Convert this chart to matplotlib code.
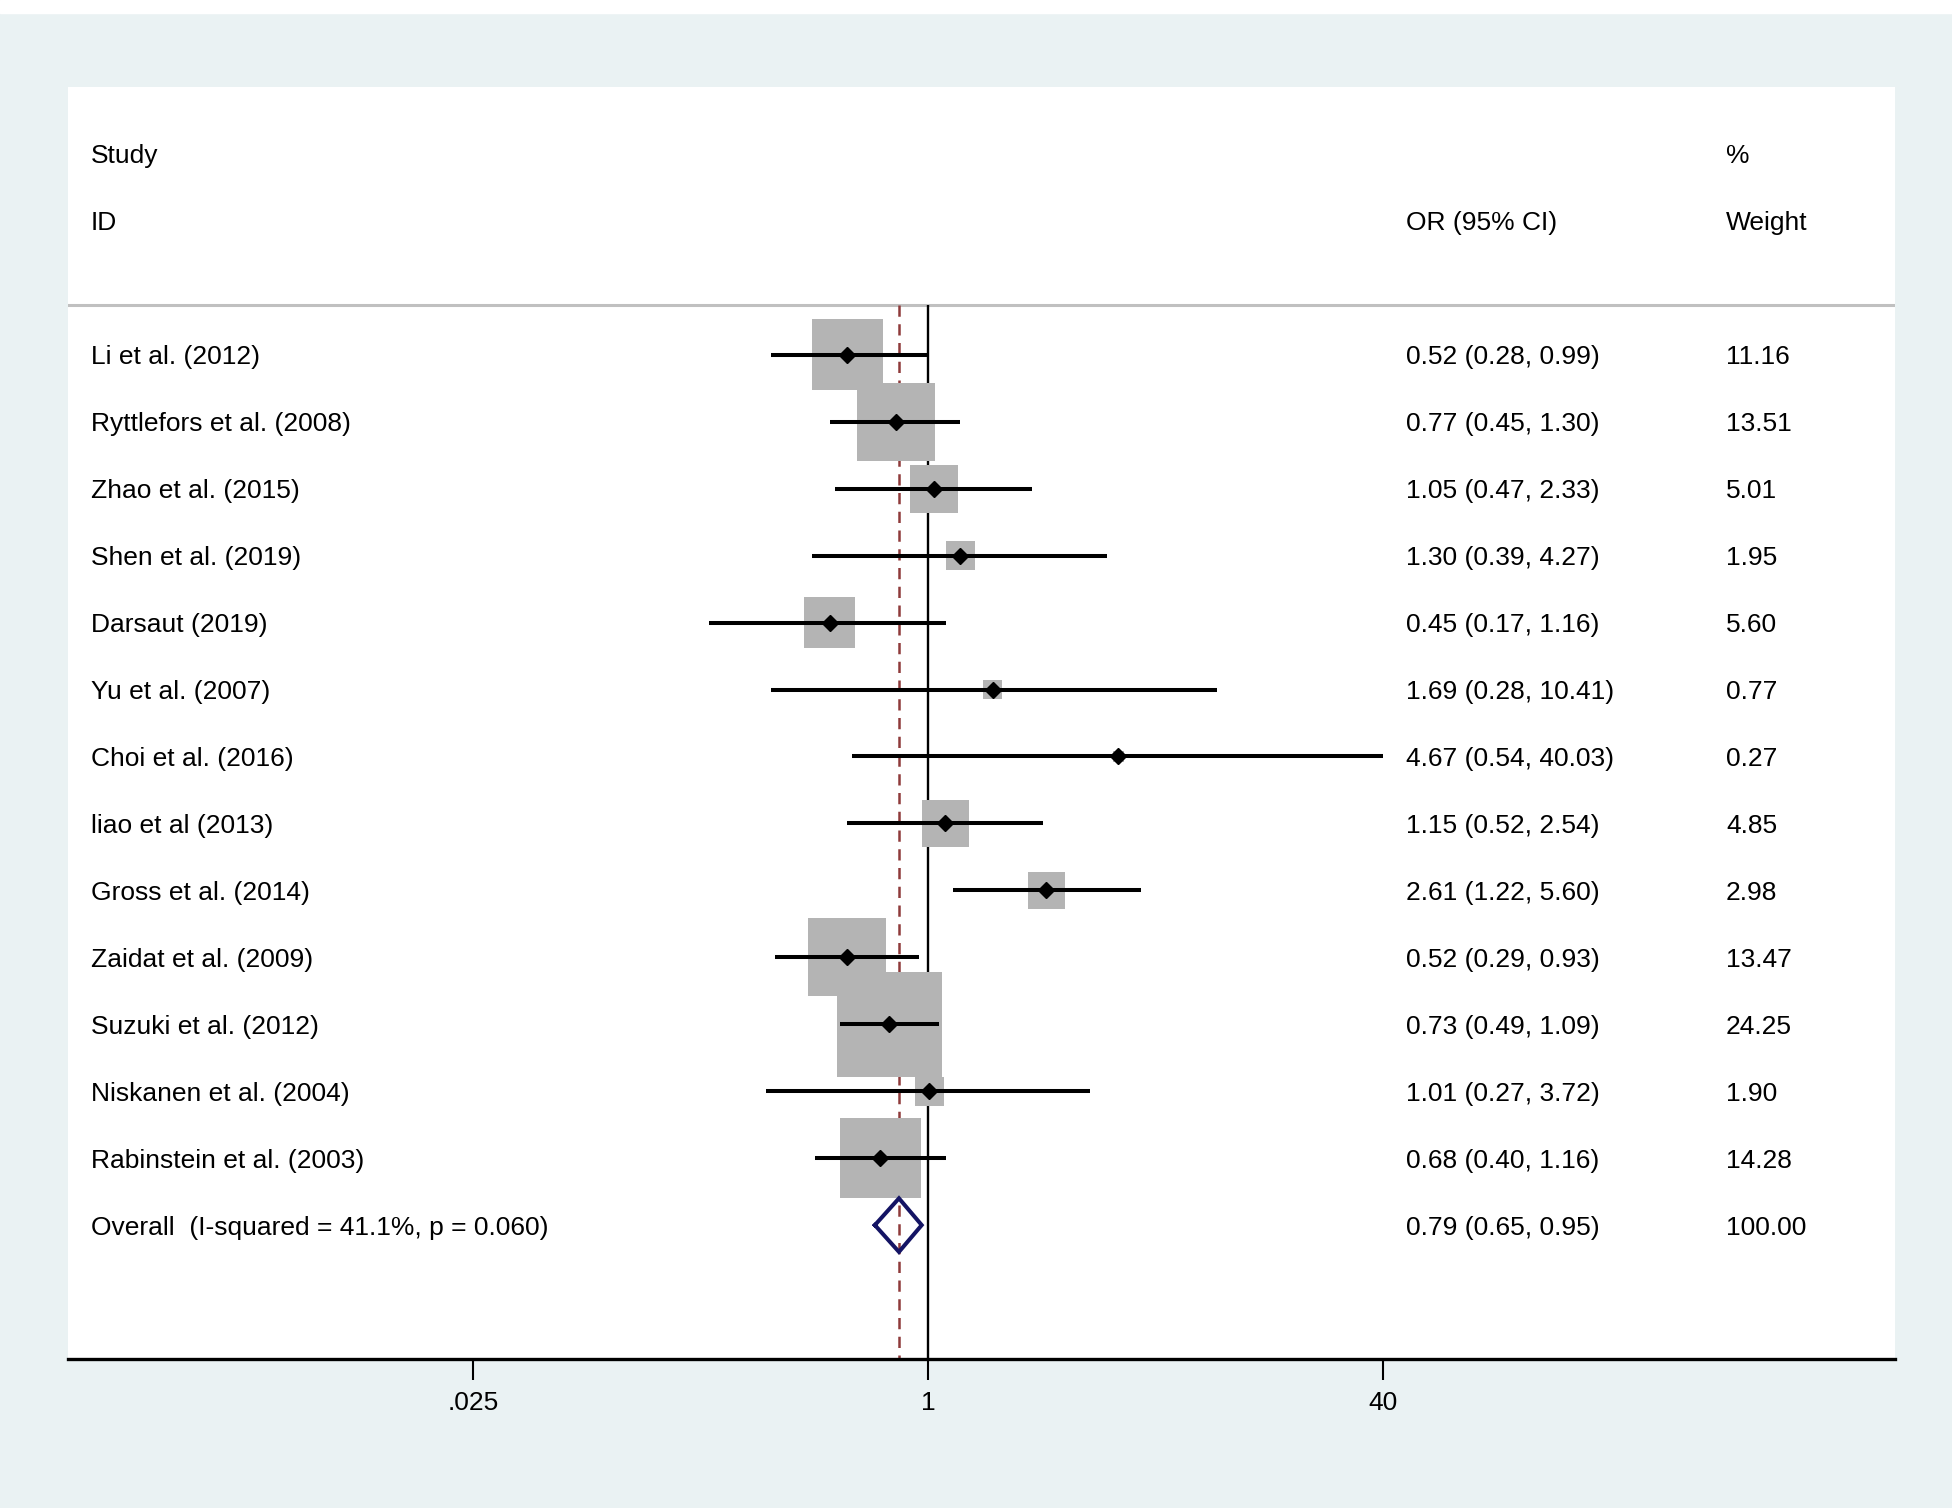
import matplotlib.pyplot as plt
import numpy as np

# data
studies = ["Li et al. (2012)", "Ryttlefors et al. (2008)", "Zhao et al. (2015)",
           "Shen et al. (2019)", "Darsaut (2019)", "Yu et al. (2007)",
           "Choi et al. (2016)", "liao et al (2013)", "Gross et al. (2014)",
           "Zaidat et al. (2009)", "Suzuki et al. (2012)", "Niskanen et al. (2004)",
           "Rabinstein et al. (2003)"]
or_est = [0.52, 0.77, 1.05, 1.30, 0.45, 1.69, 4.67, 1.15, 2.61, 0.52, 0.73, 1.01, 0.68]
ci_lo = [0.28, 0.45, 0.47, 0.39, 0.17, 0.28, 0.54, 0.52, 1.22, 0.29, 0.49, 0.27, 0.40]
ci_hi = [0.99, 1.30, 2.33, 4.27, 1.16, 10.41, 40.03, 2.54, 5.60, 0.93, 1.09, 3.72, 1.16]
weights = [11.16, 13.51, 5.01, 1.95, 5.60, 0.77, 0.27, 4.85, 2.98, 13.47, 24.25, 1.90, 14.28]

overall_label = "Overall  (I-squared = 41.1%, p = 0.060)"
overall_or, overall_lo, overall_hi = 0.79, 0.65, 0.95
overall_weight = 100.00

xticks = [0.025, 1, 40]
xtick_labels = [".025", "1", "40"]

bg = "#eaf2f3"
font = "Liberation Sans"
fs = 19

fig = plt.figure(figsize=(19.52, 15.08), dpi=100, facecolor=bg)
# thin white strip at the very top
fig.patches.append(plt.Rectangle((0, 1 - 13 / 1508), 1, 13 / 1508, transform=fig.transFigure,
                                 color="white", zorder=0))
ax = fig.add_axes([68 / 1952, 1 - 1359 / 1508, (1895 - 68) / 1952, (1359 - 87) / 1508])
ax.set_facecolor("white")
ax.set_xscale("log")
ax.set_xlim(0.00094, 2530)
ax.set_ylim(16, -3)

rows = np.arange(1, len(studies) + 1)
n_over = len(studies) + 1
tr = ax.get_yaxis_transform()


def label(x, y, s):
    ax.text(x, y, s, transform=tr, va="center_baseline", fontsize=fs, family=font)


# header rows
ax.axhline(0.25, color="#c0c0c0", lw=2.2, zorder=1)
label(0.0126, -2, "Study")
label(0.0126, -1, "ID")
label(0.7323, -1, "OR (95% CI)")
label(0.9075, -2, "%")
label(0.9075, -1, "Weight")

# null line and overall line
ax.plot([1, 1], [0.25, 16], color="black", lw=1.7, zorder=1, solid_capstyle="butt")
ax.plot([overall_or, overall_or], [0.25, 16], color="#8e3a3a", lw=1.8, zorder=1,
        dashes=(4.5, 3))

# study weight boxes, CIs and point estimates
ax.scatter(or_est, rows, s=235 * np.array(weights), marker="s", color="#b4b4b4",
           linewidths=0, zorder=2)
ax.hlines(rows, ci_lo, ci_hi, color="black", lw=2.9, zorder=3)
ax.plot(or_est, rows, "D", color="black", ms=8.5, zorder=4)

for y, name, o, lo, hi, w in zip(rows, studies, or_est, ci_lo, ci_hi, weights):
    label(0.0126, y, name)
    label(0.7323, y, f"{o:.2f} ({lo:.2f}, {hi:.2f})")
    label(0.9075, y, f"{w:.2f}")

# overall diamond
dx = [overall_lo, overall_or, overall_hi, overall_or, overall_lo]
dy = [n_over, n_over - 0.4, n_over, n_over + 0.4, n_over]
ax.plot(dx, dy, color="#141464", lw=2.9, zorder=5, solid_joinstyle="miter")
label(0.0126, n_over, overall_label)
label(0.7323, n_over, f"{overall_or:.2f} ({overall_lo:.2f}, {overall_hi:.2f})")
label(0.9075, n_over, f"{overall_weight:.2f}")

# axes styling
for side in ["top", "left", "right"]:
    ax.spines[side].set_visible(False)
ax.spines["bottom"].set_linewidth(2.4)
ax.set_yticks([])
ax.minorticks_off()
ax.set_xticks(xticks)
ax.set_xticklabels(xtick_labels, fontsize=fs, family=font)
ax.tick_params(axis="x", length=15, width=1.5, pad=8)

plt.savefig("out.png", dpi=100, facecolor=bg)
